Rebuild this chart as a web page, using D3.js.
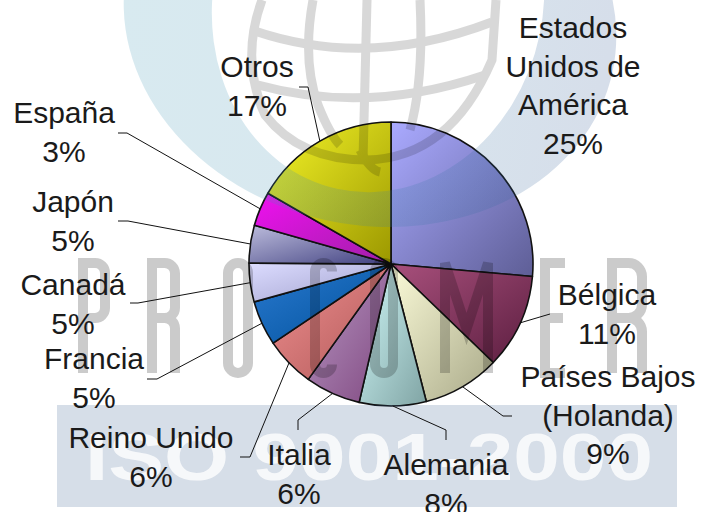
<!DOCTYPE html>
<html><head><meta charset="utf-8">
<script src="https://cdn.jsdelivr.net/npm/d3@7"></script>
<style>body{margin:0;background:#fff}svg{display:block}</style>
</head><body><svg id="c" width="702" height="512"></svg>
<script>
// ---- data ----
const countries = ["Estados Unidos de América","Bélgica","Países Bajos (Holanda)","Alemania","Italia","Reino Unido","Francia","Canadá","Japón","España","Otros"];
const labelLines = [["Estados","Unidos de","América"],["Bélgica"],["Países Bajos","(Holanda)"],["Alemania"],["Italia"],["Reino Unido"],["Francia"],["Canadá"],["Japón"],["España"],["Otros"]];
const percentLabels = ["25%","11%","9%","8%","6%","6%","5%","5%","5%","3%","17%"];
const shares = [26.4,10.8,8.8,7.6,6.3,5.7,5.1,4.4,4.3,3.9,16.7];

// ---- style / layout ----
const colorsLight = ['#aaaaff','#a8507c','#fbfbd8','#d0f8f8','#b898c4','#f09090','#2a7ad0','#dcdcff','#bcbcdc','#f010f0','#f4f428'];
const colorsDark  = ['#5e5e96','#5c1e40','#a8a888','#80a4a4','#804880','#b05858','#00509a','#a0a0cc','#404080','#a020a8','#9c9800'];
const cx = 391, cy = 264, R = 142;
const lineH = 38.5;
const labelPos = [[573,38],[607,305],[608,387],[446,475],[299,465],[151,448],[94,369],[73,295],[73,212],[64,123],[257,77]];
const leaderBend = [null,[550,314],[503,416],[446,430],[298,420],[250,457],[157,379],[138,303],[128,221],[127,133],[308,87]];
const leaderEnd  = [null,null,[512,416],[446,440],[298,430],[240,457],[147,379],[130,303],[118,221],[118,133],[299,87]];

const svg = d3.select('#c');
const defs = svg.append('defs');
svg.append('rect').attr('width',702).attr('height',512).attr('fill','#fff');

// gradients
shares.forEach((v,i)=>{
  const g = defs.append('linearGradient').attr('id','g'+i).attr('x1',0).attr('y1',0).attr('x2',1).attr('y2',1);
  g.append('stop').attr('offset','0%').attr('stop-color',colorsLight[i]);
  g.append('stop').attr('offset','100%').attr('stop-color',colorsDark[i]);
});

const pie = d3.pie().sort(null).value(d=>d)(shares);
const arc = d3.arc().innerRadius(0).outerRadius(R);
const pg = svg.append('g').attr('transform',`translate(${cx},${cy})`);
pg.selectAll('path').data(pie).join('path')
  .attr('d',arc).attr('fill',(d,i)=>`url(#g${i})`)
  .attr('stroke','#111').attr('stroke-width',1.6).attr('stroke-linejoin','round');

// ---- watermark overlay ----
svg.append('rect').attr('x',57).attr('y',405).attr('width',620).attr('height',102)
  .attr('fill','rgb(50,90,140)').attr('opacity',0.2);
svg.append('text').attr('x',85).attr('y',480).attr('textLength',568).attr('lengthAdjust','spacingAndGlyphs')
  .attr('font-family','Liberation Sans, Arial, sans-serif').attr('font-weight','bold').attr('font-size',67)
  .attr('fill','#fff').attr('opacity',0.8).text('ISO 9001-2000');

const rg = defs.append('linearGradient').attr('id','ring').attr('gradientUnits','userSpaceOnUse')
  .attr('x1',120).attr('y1',0).attr('x2',610).attr('y2',0);
rg.append('stop').attr('offset','0%').attr('stop-color','rgb(60,150,180)');
rg.append('stop').attr('offset','45%').attr('stop-color','rgb(60,140,175)');
rg.append('stop').attr('offset','100%').attr('stop-color','rgb(50,90,150)');
function ell(x,y,rx,ry){return `M${x-rx},${y}a${rx},${ry} 0 1,0 ${2*rx},0a${rx},${ry} 0 1,0 ${-2*rx},0Z`;}
svg.append('g').attr('opacity',0.2).attr('transform','rotate(12,370,20)')
  .append('path').attr('fill-rule','evenodd').attr('fill','url(#ring)')
  .attr('d', ell(370,20,248,205) + ell(374,0,165,192));

const gl = svg.append('g').attr('opacity',0.15).attr('fill','none').attr('stroke','#000').attr('stroke-width',9);
gl.append('path').attr('d','M262,0 Q240,60 265,115 Q300,160 367,160 Q450,158 492,60 L496,0');
gl.append('path').attr('d','M313,0 Q302,60 318,105 Q330,135 340,145');
gl.append('path').attr('d','M420,0 Q424,80 410,130');
gl.append('path').attr('d','M367,0 L363,160');
gl.append('path').attr('d','M252,30 Q367,70 492,22');
gl.append('path').attr('d','M258,85 Q367,115 485,75');
gl.append('path').attr('d','M360,150 q10,20 20,22');

const lx = [[78,110],[147,180],[223,253],[310,337],[370,398],[440,493],[540,570],[607,647]];
const letters = ['P','R','O','C','O','M','E','R'];
function letterPath(ch,a,b){
  const s=5, x0=a+s, x1=b-s, y0=258+s, y1=378-s, w=x1-x0, h=y1-y0, ym=y0+h*0.5, r=Math.min(w*0.45,14);
  switch(ch){
    case 'P': return `M${x0},${y1}V${y0}H${x1-r}A${r},${r} 0 0 1 ${x1},${y0+r}V${ym-r}A${r},${r} 0 0 1 ${x1-r},${ym}H${x0}`;
    case 'R': return `M${x0},${y1}V${y0}H${x1-r}A${r},${r} 0 0 1 ${x1},${y0+r}V${ym-r}A${r},${r} 0 0 1 ${x1-r},${ym}H${x0}M${x1-r},${ym}A${r},${r} 0 0 1 ${x1},${ym+r}V${y1}`;
    case 'O': { const q=w/2; return `M${x0},${y0+q}A${q},${q} 0 0 1 ${x1},${y0+q}V${y1-q}A${q},${q} 0 0 1 ${x0},${y1-q}Z`; }
    case 'C': { const q=w/2; return `M${x1},${y0+q}A${q},${q} 0 0 0 ${x0},${y0+q}V${y1-q}A${q},${q} 0 0 0 ${x1},${y1-q}`; }
    case 'M': return `M${x0},${y1}V${y0}L${(x0+x1)/2},${y0+h*0.6}L${x1},${y0}V${y1}`;
    case 'E': return `M${x1},${y0}H${x0}V${y1}H${x1}M${x0},${ym}H${x1-w*0.1}`;
  }
}
const lg = svg.append('g').attr('opacity',0.2).attr('fill','none').attr('stroke','#000').attr('stroke-width',10);
letters.forEach((ch,i)=> lg.append('path').attr('d',letterPath(ch,lx[i][0],lx[i][1])));

// ---- leader lines ----
const ll = svg.append('g').attr('fill','none').attr('stroke','#111').attr('stroke-width',1);
pie.forEach((d,i)=>{
  if(!leaderBend[i]) return;
  const a=(d.startAngle+d.endAngle)/2;
  const pts=[[cx+R*Math.sin(a), cy-R*Math.cos(a)], leaderBend[i]];
  if(leaderEnd[i]) pts.push(leaderEnd[i]);
  ll.append('path').attr('d', d3.line()(pts));
});

// ---- labels ----
const tg = svg.append('g').attr('font-family','Liberation Sans, Arial, sans-serif').attr('font-size',30)
  .attr('fill','#1a1a1a').attr('text-anchor','middle');
labelLines.forEach((lines,i)=>{
  const t = tg.append('text').attr('x',labelPos[i][0]).attr('y',labelPos[i][1]);
  lines.concat([percentLabels[i]]).forEach((s,k)=>{
    t.append('tspan').attr('x',labelPos[i][0]).attr('dy',k===0?0:lineH).text(s);
  });
});
</script>
</body></html>
